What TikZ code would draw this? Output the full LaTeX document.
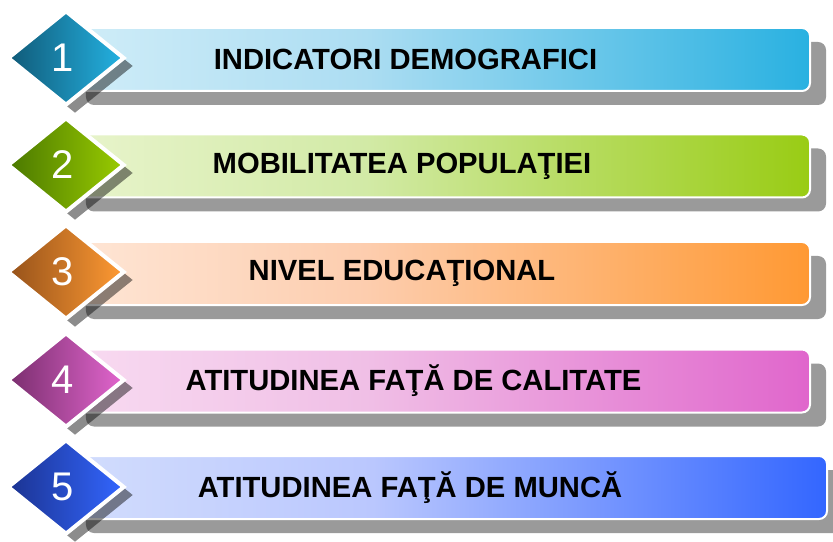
\documentclass[tikz,border=0pt]{standalone}
\usepackage{fontspec}
\setmainfont{Liberation Sans}
\usetikzlibrary{shapes.geometric,shadows}
\definecolor{shgray}{HTML}{9A9A9A}
% bar colours
\definecolor{bLa}{HTML}{D0EDF8}\definecolor{bMa}{HTML}{ACDDF2}\definecolor{bRa}{HTML}{29B1E1}
\definecolor{bLb}{HTML}{E8F4CC}\definecolor{bMb}{HTML}{D2EAA6}\definecolor{bRb}{HTML}{99CC14}
\definecolor{bLc}{HTML}{FEE6D6}\definecolor{bMc}{HTML}{FDCDAE}\definecolor{bRc}{HTML}{FF9933}
\definecolor{bLd}{HTML}{F8DBF1}\definecolor{bMd}{HTML}{F0BFE6}\definecolor{bRd}{HTML}{E066CC}
\definecolor{bLe}{HTML}{D2DDFD}\definecolor{bMe}{HTML}{BAC7FE}\definecolor{bRe}{HTML}{3366FF}
% diamond colours
\definecolor{dLa}{HTML}{105A78}\definecolor{dRa}{HTML}{24B2E2}
\definecolor{dLb}{HTML}{4A7800}\definecolor{dRb}{HTML}{9ACC00}
\definecolor{dLc}{HTML}{96521A}\definecolor{dRc}{HTML}{FF9A33}
\definecolor{dLd}{HTML}{7A2E6E}\definecolor{dRd}{HTML}{E266CE}
\definecolor{dLe}{HTML}{1B3391}\definecolor{dRe}{HTML}{3366FF}
\pgfdeclarehorizontalshading{barshA}{100bp}{color(0bp)=(bLa); color(25bp)=(bLa); color(45bp)=(bMa); color(75bp)=(bRa); color(100bp)=(bRa)}
\pgfdeclarehorizontalshading{barshB}{100bp}{color(0bp)=(bLb); color(25bp)=(bLb); color(45bp)=(bMb); color(75bp)=(bRb); color(100bp)=(bRb)}
\pgfdeclarehorizontalshading{barshC}{100bp}{color(0bp)=(bLc); color(25bp)=(bLc); color(45bp)=(bMc); color(75bp)=(bRc); color(100bp)=(bRc)}
\pgfdeclarehorizontalshading{barshD}{100bp}{color(0bp)=(bLd); color(25bp)=(bLd); color(45bp)=(bMd); color(75bp)=(bRd); color(100bp)=(bRd)}
\pgfdeclarehorizontalshading{barshE}{100bp}{color(0bp)=(bLe); color(25bp)=(bLe); color(45bp)=(bMe); color(75bp)=(bRe); color(100bp)=(bRe)}
\begin{document}
\begin{tikzpicture}[x=1bp,y=-1bp,
  barbox/.style={rectangle, rounded corners=8bp, draw=white, line width=2bp,
    minimum height=63bp, inner sep=0pt,
    drop shadow={shadow xshift=16bp, shadow yshift=-14bp, fill=shgray, opacity=1}},
  diabox/.style={diamond, draw=white, line width=4bp, minimum width=117bp,
    minimum height=95bp, inner sep=0pt,
    drop shadow={shadow xshift=9bp, shadow yshift=-8bp, fill=black, opacity=0.45}},
  digit/.style={text=white, inner sep=0pt, font=\fontsize{40bp}{40bp}\selectfont},
  lbl/.style={font=\bfseries\fontsize{29.2bp}{34bp}\selectfont, text=black, inner sep=0pt}]
\useasboundingbox (0,0) rectangle (833,542);
% row 1
\node[barbox, shading=barshA, minimum width=740bp] (bar1) at (440,59.5) {};
\node[diabox, left color=dLa, right color=dRa] (dia1) at (66,58) {};
\node[digit] (num1) at (63,57.5) {1};
\node[lbl] (txt1) at (405.5,59.5) {INDICATORI DEMOGRAFICI};
% row 2
\node[barbox, shading=barshB, minimum width=740bp] (bar2) at (440,166) {};
\node[diabox, left color=dLb, right color=dRb] (dia2) at (66,165) {};
\node[digit] (num2) at (63,164.5) {2};
\node[lbl] (txt2) at (402,166) {MOBILITATEA POPULAŢIEI};
% row 3
\node[barbox, shading=barshC, minimum width=740bp] (bar3) at (440,273.5) {};
\node[diabox, left color=dLc, right color=dRc] (dia3) at (66,272) {};
\node[digit] (num3) at (63,271.5) {3};
\node[lbl] (txt3) at (402,273.5) {NIVEL EDUCAŢIONAL};
% row 4
\node[barbox, shading=barshD, minimum width=740bp] (bar4) at (440,381) {};
\node[diabox, left color=dLd, right color=dRd] (dia4) at (66,380) {};
\node[digit] (num4) at (63,379.5) {4};
\node[lbl] (txt4) at (413.5,381) {ATITUDINEA FAŢĂ DE CALITATE};
% row 5
\node[barbox, shading=barshE, minimum width=757bp] (bar5) at (448.5,487.5) {};
\node[diabox, left color=dLe, right color=dRe] (dia5) at (66,487) {};
\node[digit] (num5) at (63,486.5) {5};
\node[lbl] (txt5) at (410,487.5) {ATITUDINEA FAŢĂ DE MUNCĂ};
\end{tikzpicture}
\end{document}
